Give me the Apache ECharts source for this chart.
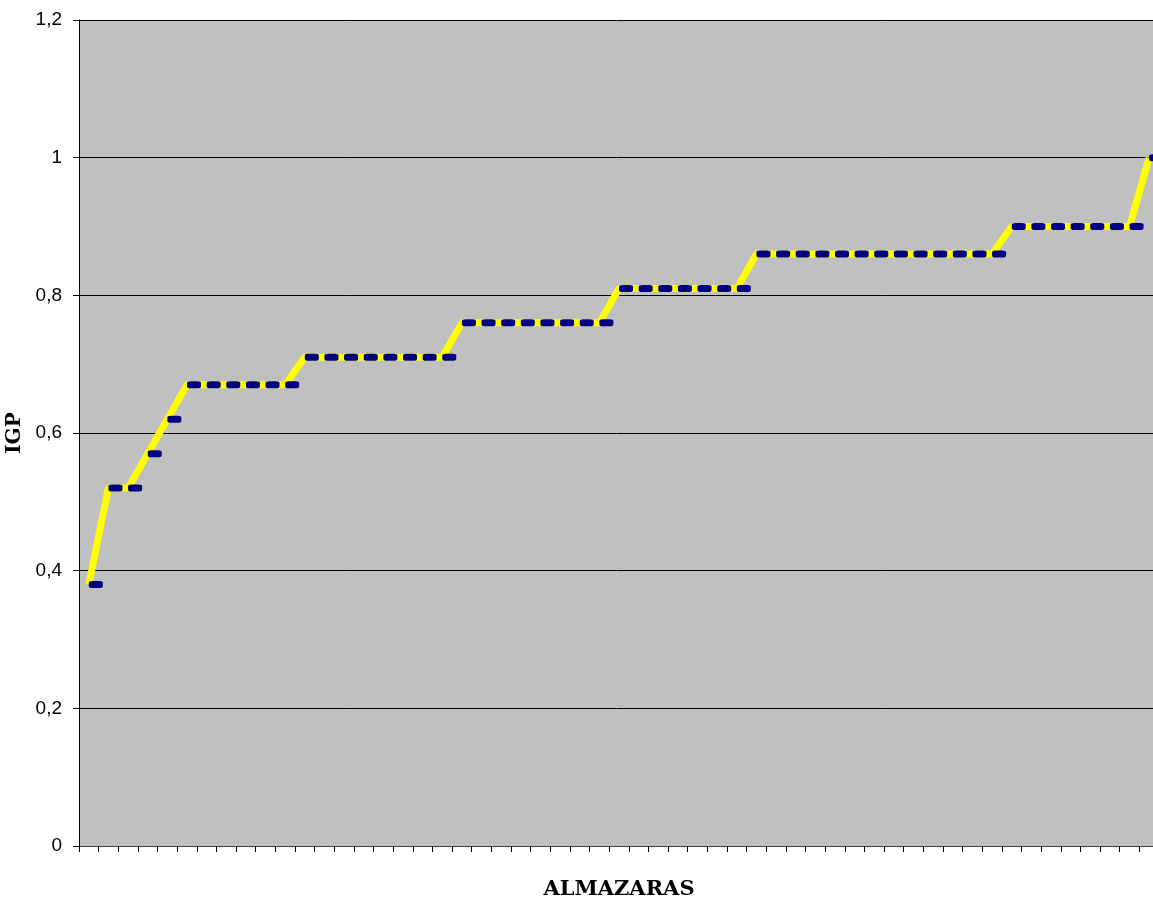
<!DOCTYPE html>
<html>
<head>
<meta charset="utf-8">
<script src="https://cdn.jsdelivr.net/npm/echarts@6/dist/echarts.min.js"></script>
<style>
html,body{margin:0;padding:0;background:#fff;}
#chart{width:1153px;height:899px;}
</style>
</head>
<body>
<div id="chart"></div>
<script>
const categories = ['1','2','3','4','5','6','7','8','9','10','11','12','13','14','15','16','17','18','19','20','21','22','23','24','25','26','27','28','29','30','31','32','33','34','35','36','37','38','39','40','41','42','43','44','45','46','47','48','49','50','51','52','53','54','55'];
const igpValues = [0.38,0.52,0.52,0.57,0.62,
  0.67,0.67,0.67,0.67,0.67,0.67,
  0.71,0.71,0.71,0.71,0.71,0.71,0.71,0.71,
  0.76,0.76,0.76,0.76,0.76,0.76,0.76,0.76,
  0.81,0.81,0.81,0.81,0.81,0.81,0.81,
  0.86,0.86,0.86,0.86,0.86,0.86,0.86,0.86,0.86,0.86,0.86,0.86,0.86,
  0.9,0.9,0.9,0.9,0.9,0.9,0.9,
  1.0];
const yTickLabels = {0:'0',0.2:'0,2',0.4:'0,4',0.6:'0,6',0.8:'0,8',1:'1',1.2:'1,2'};
const xTitle = 'ALMAZARAS';
const yTitle = 'IGP';

const chart = echarts.init(document.getElementById('chart'), null, {renderer:'canvas'});
chart.setOption({
  animation:false,
  backgroundColor:'#ffffff',
  grid:{left:79, top:20, width:1080, height:826, outerBoundsMode:'none', containLabel:false,
    show:true, backgroundColor:'#C0C0C0', borderWidth:0},
  xAxis:{
    type:'category', data:categories, boundaryGap:true,
    name:xTitle, nameLocation:'middle', nameGap:33,
    nameTextStyle:{fontFamily:'DejaVu Serif', fontWeight:'bold', fontSize:21, color:'#000'},
    axisLine:{show:true, lineStyle:{color:'#404040', width:1}},
    axisTick:{show:true, interval:0, length:6, lineStyle:{color:'#000'}},
    axisLabel:{show:false},
    splitLine:{show:false}
  },
  yAxis:{
    type:'value', min:0, max:1.2, interval:0.2,
    name:yTitle, nameLocation:'middle', nameGap:51,
    nameTextStyle:{fontFamily:'DejaVu Serif', fontWeight:'bold', fontSize:20, color:'#000'},
    axisLine:{show:true, lineStyle:{color:'#000', width:1}},
    axisTick:{show:true, length:6, lineStyle:{color:'#000'}},
    axisLabel:{margin:17, fontFamily:'Liberation Sans', fontSize:19, color:'#000',
      formatter:function(v){ const k = Math.round(v*10)/10; return yTickLabels[k] !== undefined ? yTickLabels[k] : String(v).replace('.',','); }},
    splitLine:{show:true, lineStyle:{color:'#000', width:1}}
  },
  series:[{
    type:'line', data:igpValues, showAllSymbol:true,
    symbol:'roundRect', symbolSize:[14,7], symbolOffset:[7,0],
    itemStyle:{color:'#000080'},
    lineStyle:{color:'#FFFF00', width:7},
    emphasis:{disabled:true}
  }]
});
</script>
</body>
</html>
